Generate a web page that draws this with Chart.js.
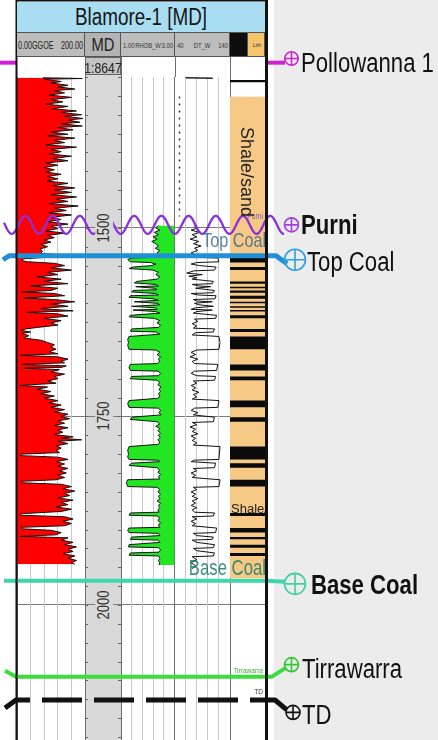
<!DOCTYPE html>
<html>
<head>
<meta charset="utf-8">
<script src="https://cdn.jsdelivr.net/npm/chart.js@4.4.1/dist/chart.umd.min.js"></script>
<style>
  html, body { margin: 0; padding: 0; background: #fff; }
  #wrap { position: relative; width: 438px; height: 740px; overflow: hidden; }
  #c { position: absolute; left: 0; top: 0; }
  .lbl { position: absolute; white-space: nowrap; line-height: 1; transform-origin: 0 0; z-index: 3; }
  .box { position: absolute; box-sizing: border-box; z-index: 2; }
</style>
</head>
<body>
<div id="wrap"><canvas id="c" width="438" height="740"></canvas></div>
<script>
// ---------------- well / depth ----------------
const wellName = 'Blamore-1 [MD]';
const depthScaleText = '1:8647';
const depthTop = 1300;
const depthBase = 2179;
const depthLabels = [1500, 1750, 2000];
const depthMinorStep = 25;

// ---------------- formation tops ----------------
const topNames  = ['Pollowanna 1', 'Purni', 'Top Coal', 'Base Coal', 'Tirrawarra', 'TD'];
const topDepths = [1281, 1496, 1537, 1968, 2095, 2126];

// ---------------- track 1: gamma ray (GAPI) ----------------
const grRange = [0, 200];
const grLog = [
  [1301,76],[1302,192],[1303,80],[1306,130],[1308,100],[1311,150],[1313,120],[1316,170],[1318,110],[1321,140],
  [1324,95],[1327,160],[1330,100],[1333,135],[1336,85],[1339,150],[1342,105],[1345,175],[1347,130],[1350,190],
  [1352,140],[1355,194],[1357,150],[1360,185],[1362,130],[1365,192],[1367,120],[1370,165],[1373,100],[1376,150],
  [1378,90],[1381,170],[1384,110],[1387,140],[1390,85],[1393,175],[1396,100],[1399,130],[1402,95],[1405,160],
  [1408,105],[1411,150],[1414,85],[1417,120],[1420,80],[1423,110],[1426,85],[1429,130],[1432,90],[1435,120],
  [1438,88],[1441,150],[1444,105],[1447,170],[1450,110],[1453,160],[1456,100],[1459,175],[1462,115],[1465,150],
  [1468,95],[1471,180],[1474,110],[1477,145],[1480,95],[1483,160],[1486,100],[1489,130],[1492,90],[1495,150],
  [1498,100],[1501,120],[1504,85],[1507,140],[1510,90],[1513,110],[1516,80],[1519,100],[1522,70],[1525,90],
  [1528,68],[1531,75],[1534,70],[1537,178],[1539,90],[1541,20],[1543,12],[1545,30],[1547,110],[1550,140],
  [1553,100],[1556,160],[1559,90],[1562,120],[1565,60],[1568,130],[1571,80],[1574,150],[1577,40],[1580,120],
  [1583,100],[1585,15],[1587,110],[1590,140],[1593,20],[1595,110],[1598,170],[1601,100],[1604,150],[1607,70],
  [1610,165],[1612,30],[1614,120],[1617,150],[1620,80],[1623,130],[1626,100],[1629,120],[1632,60],[1634,25],
  [1636,12],[1638,40],[1640,15],[1643,35],[1646,20],[1649,70],[1652,90],[1655,110],[1658,100],[1661,115],
  [1664,95],[1667,120],[1669,10],[1671,120],[1674,150],[1677,130],[1679,140],[1681,15],[1683,145],[1685,130],
  [1686,20],[1688,125],[1691,100],[1694,140],[1697,110],[1700,120],[1703,90],[1706,115],[1709,8],[1711,90],
  [1714,60],[1717,100],[1720,70],[1723,110],[1726,80],[1729,120],[1732,95],[1735,130],[1738,100],[1741,140],
  [1744,110],[1747,150],[1750,130],[1753,155],[1756,120],[1759,140],[1762,110],[1765,150],[1768,120],[1771,135],
  [1774,110],[1777,165],[1779,130],[1781,190],[1783,120],[1786,150],[1789,115],[1792,130],[1795,115],[1798,125],
  [1800,12],[1802,10],[1804,120],[1807,150],[1810,115],[1813,140],[1816,120],[1819,150],[1822,125],[1825,145],
  [1828,120],[1831,140],[1834,115],[1836,12],[1838,15],[1840,130],[1843,160],[1846,135],[1849,170],[1852,140],
  [1855,155],[1858,120],[1861,165],[1864,130],[1867,150],[1870,115],[1873,160],[1876,130],[1879,12],[1881,10],
  [1883,140],[1886,165],[1889,135],[1892,160],[1895,140],[1897,12],[1899,15],[1901,100],[1904,130],[1907,115],
  [1909,10],[1911,150],[1914,130],[1917,165],[1920,140],[1923,175],[1926,150],[1929,165],[1932,135],[1935,170],
  [1938,150],[1941,175],[1944,160],[1946,170]
];

// ---------------- track 3: bulk density (g/cc) ----------------
const rhobRange = [1.0, 3.0];
const rhobLog = [
  [1497,2.40],[1500,2.30],[1503,2.45],[1506,2.25],[1509,2.40],[1512,2.20],[1515,2.35],[1518,2.15],[1521,2.30],[1524,2.40],
  [1527,2.28],[1530,2.45],[1533,2.35],[1536,2.40],[1539,2.30],[1540,1.40],[1542,1.25],[1545,1.35],[1546,2.10],[1548,2.30],
  [1550,2.15],[1552,1.45],[1554,1.30],[1556,2.20],[1559,2.40],[1562,2.30],[1565,2.45],[1568,2.35],[1571,1.60],[1573,1.50],
  [1575,2.30],[1577,2.40],[1578,1.55],[1580,2.25],[1582,2.35],[1583,1.45],[1585,1.40],[1587,2.30],[1589,2.40],[1590,1.35],
  [1592,1.30],[1594,2.20],[1596,2.40],[1598,1.50],[1600,2.35],[1602,2.45],[1604,1.40],[1606,2.30],[1608,2.35],[1609,1.45],
  [1611,2.30],[1613,2.45],[1616,1.35],[1618,1.30],[1620,2.25],[1623,2.45],[1626,2.35],[1629,2.48],[1632,2.40],[1634,1.40],
  [1637,1.35],[1638,2.30],[1641,2.45],[1644,1.30],[1648,1.25],[1652,1.28],[1656,1.25],[1661,1.30],[1662,2.30],[1665,2.45],
  [1668,2.35],[1671,2.48],[1674,2.40],[1677,2.45],[1680,2.35],[1681,1.35],[1685,1.30],[1689,1.35],[1690,2.40],[1693,2.48],
  [1696,2.40],[1697,1.40],[1700,1.35],[1702,2.35],[1705,2.45],[1708,2.38],[1711,2.50],[1714,2.42],[1717,2.48],[1720,2.40],
  [1723,2.46],[1726,2.38],[1729,1.30],[1733,1.25],[1738,1.30],[1739,2.40],[1742,2.48],[1745,2.42],[1748,2.50],[1751,1.40],
  [1754,1.35],[1757,2.35],[1760,2.45],[1763,2.30],[1766,2.45],[1769,2.38],[1772,2.48],[1775,2.40],[1778,2.46],[1781,2.38],
  [1784,2.45],[1787,2.40],[1790,1.30],[1795,1.25],[1800,1.28],[1804,1.25],[1807,1.30],[1808,2.40],[1810,2.45],[1812,1.40],
  [1815,1.30],[1818,2.35],[1821,2.45],[1824,2.38],[1827,2.48],[1830,2.40],[1833,2.45],[1834,1.25],[1838,1.20],[1843,1.25],
  [1844,2.35],[1847,2.45],[1850,2.38],[1853,2.48],[1856,2.40],[1859,2.46],[1862,2.35],[1865,2.48],[1868,2.40],[1871,2.45],
  [1874,2.38],[1877,2.42],[1878,1.35],[1881,1.30],[1882,2.35],[1885,2.45],[1888,2.38],[1891,2.48],[1894,2.40],[1897,2.45],
  [1898,1.30],[1901,1.25],[1904,1.30],[1905,2.40],[1908,2.45],[1910,1.40],[1913,1.35],[1914,2.38],[1917,2.46],[1920,1.30],
  [1923,1.28],[1924,2.40],[1927,2.48],[1930,2.42],[1931,1.35],[1934,1.30],[1935,2.40],[1938,2.46],[1941,2.40],[1944,2.45],
  [1947,2.42]
];

// ---------------- track 4: sonic (us/ft) ----------------
const dtRange = [40, 140];
const dtLog = [
  [1497,75],[1500,82],[1503,70],[1506,85],[1509,72],[1512,80],[1515,68],[1518,84],[1521,74],[1524,88],
  [1527,76],[1530,82],[1533,70],[1536,78],[1539,72],[1540,118],[1545,120],[1546,80],[1548,70],[1550,85],
  [1552,115],[1556,112],[1557,75],[1560,62],[1562,90],[1564,66],[1566,80],[1568,72],[1571,110],[1574,108],
  [1575,72],[1577,84],[1578,105],[1580,78],[1583,112],[1586,110],[1587,70],[1589,82],[1590,115],[1594,113],
  [1595,74],[1597,80],[1598,108],[1600,76],[1602,84],[1604,110],[1606,78],[1608,70],[1609,108],[1611,80],
  [1613,74],[1616,116],[1620,114],[1621,76],[1624,82],[1627,72],[1630,80],[1633,74],[1634,112],[1638,110],
  [1639,78],[1642,72],[1644,120],[1652,122],[1661,120],[1662,80],[1665,70],[1668,78],[1671,68],[1674,82],
  [1677,72],[1680,76],[1681,118],[1689,116],[1690,76],[1693,70],[1696,80],[1697,114],[1702,112],[1703,74],
  [1706,80],[1709,70],[1712,78],[1715,72],[1718,84],[1721,74],[1724,80],[1727,72],[1729,120],[1738,118],
  [1739,76],[1742,70],[1745,82],[1748,74],[1751,112],[1757,110],[1758,72],[1761,80],[1764,68],[1767,78],
  [1770,72],[1773,82],[1776,70],[1779,78],[1782,72],[1785,80],[1788,74],[1790,122],[1807,120],[1808,76],
  [1810,70],[1812,114],[1818,112],[1819,74],[1822,80],[1825,70],[1828,78],[1831,72],[1834,122],[1843,120],
  [1844,74],[1847,80],[1850,70],[1853,78],[1856,72],[1859,82],[1862,72],[1865,78],[1868,70],[1871,80],
  [1874,72],[1877,76],[1878,112],[1882,110],[1883,72],[1886,80],[1889,70],[1892,78],[1895,72],[1898,116],
  [1904,114],[1905,74],[1908,80],[1910,110],[1913,108],[1914,72],[1917,80],[1920,112],[1924,110],[1925,74],
  [1928,80],[1931,112],[1935,110],[1936,72],[1940,80],[1944,70],[1948,78],[1952,72]
];
const dtCapLog  = [[1301,60],[1301.3,85],[1301.6,109]];
const dtUpperLog = [[1326,49],[1485,49]];

// ---------------- track 5: lithology ----------------
const shaleSandInterval = [1326, 1965];
const coalBands = [
  [1304,1307],[1540,1546],[1552,1556],[1571,1574],[1578,1580],[1583,1586],[1590,1594],[1598,1600],[1604,1606],
  [1609,1611],[1616,1620],[1634,1638],[1644,1661],[1681,1689],[1697,1702],[1729,1738],[1751,1757],[1790,1807],
  [1812,1818],[1834,1843],[1878,1882],[1898,1904],[1910,1913],[1920,1924],[1931,1935]
];

// ---------------- drawing styles ----------------
const NARROW = 0.82;
const topStyles = [
  { color: '#d21fd2', ring: '#d21fd2', width: 4, inner: false, left: [[0,0],[16,0]], right: [[266,0],[285,0]], circle: [291.5,-4.2,6.7], label: [301,0.3], bold: false },
  { color: '#8d2fd9', ring: '#a040e0', width: 2.3, wave: true, circle: [291.5,0,7], label: [301,0], bold: true },
  { color: '#1f8fd6', ring: '#2fa0e0', width: 5, inner: true, left: [[3,4],[9,0],[17,0]], right: [[266,0],[276,0],[287,8]], circle: [295,4,10.5], label: [307,6.7], bold: false },
  { color: '#3dd6a6', ring: '#40d0a0', width: 4, inner: true, left: [[4,0],[17,0]], right: [[266,0],[285,1]], circle: [295,3,10.5], label: [311,4], bold: true },
  { color: '#3ddc3d', ring: '#30c830', width: 4, inner: true, left: [[5,-6],[16,0]], right: [[266,0],[272,0],[286,-9]], circle: [291.5,-12,7], label: [302,-7.7], bold: false },
  { color: '#111111', ring: '#111111', width: 5, dash: [40,12], inner: true, left: [[5,8],[16,0]], right: [[266,0],[275,0],[287,10]], circle: [293,12.4,7], label: [302,15], bold: false }
];

const toPts = arr => arr.map(([d, v]) => ({ x: v, y: d }));
const bandPts = bands => {
  const pts = [];
  bands.forEach(([t, b]) => { pts.push({x:0,y:t},{x:1,y:t},{x:1,y:b},{x:0,y:b}); });
  return pts;
};

function trackAxis(weight, range, gridTicks) {
  return {
    type: 'linear', axis: 'x', position: 'bottom', stack: 'tracks', stackWeight: weight,
    min: range[0], max: range[1],
    ticks: { display: false },
    border: { display: false },
    grid: {
      drawTicks: false, lineWidth: 1,
      color: c => (c.tick && (c.tick.value === range[0] || c.tick.value === range[1])) ? '#6e6e6e' : '#c8c8c8'
    },
    afterBuildTicks: s => { s.ticks = gridTicks.map(v => ({ value: v })); }
  };
}

const panelPlugin = {
  id: 'panel',
  beforeDraw(chart) {
    const { ctx, chartArea: a, scales } = chart;
    ctx.save();
    ctx.fillStyle = '#ececec';
    ctx.fillRect(a.right + 8, 0, chart.width - a.right - 8, chart.height);
    const md = scales.xMD;
    ctx.fillStyle = '#d9d9d9';
    ctx.fillRect(md.left, 75, md.right - md.left, chart.height - 75);
    ctx.strokeStyle = '#6e6e6e';
    ctx.lineWidth = 1;
    [scales.xGR.right, md.right, scales.xRHOB.right, scales.xDT.right].forEach(x => {
      const px = Math.round(x) + 0.5;
      ctx.beginPath(); ctx.moveTo(px, 57); ctx.lineTo(px, a.top); ctx.stroke();
    });
    ctx.restore();
  },
  afterDatasetsDraw(chart) {
    const { ctx, scales } = chart;
    const y = scales.y, md = scales.xMD;
    ctx.save();
    // depth ticks on both edges of the depth track
    ctx.strokeStyle = '#666'; ctx.lineWidth = 1;
    for (let d = Math.ceil(depthTop / depthMinorStep) * depthMinorStep; d <= depthBase; d += depthMinorStep) {
      const py = Math.round(y.getPixelForValue(d)) + 0.5;
      ctx.beginPath();
      ctx.moveTo(md.left, py); ctx.lineTo(md.left + 3, py);
      ctx.moveTo(md.right - 3, py); ctx.lineTo(md.right, py);
      ctx.stroke();
    }
    // formation tops
    topDepths.forEach((dep, i) => {
      const st = topStyles[i];
      const py = y.getPixelForValue(dep);
      ctx.strokeStyle = st.color;
      ctx.lineWidth = st.width;
      ctx.lineJoin = 'round';
      ctx.setLineDash(st.dash || []);
      ctx.lineDashOffset = st.dash ? 12.4 : 0;
      if (st.wave) {
        ctx.beginPath();
        for (let x = 4; x <= 284; x += 0.5) {
          const wy = py - 9 * Math.cos(2 * Math.PI * (x - 107) / 27.2);
          if (x === 4) ctx.moveTo(x, wy); else ctx.lineTo(x, wy);
        }
        ctx.stroke();
        return;
      }
      const drawPath = pts => {
        ctx.beginPath();
        pts.forEach(([x, dy], k) => { if (k === 0) ctx.moveTo(x, py + dy); else ctx.lineTo(x, py + dy); });
        ctx.stroke();
      };
      if (st.inner) drawPath(st.left.concat(st.right));
      else { drawPath(st.left); drawPath(st.right); }
    });
    ctx.restore();
  },
  afterDraw(chart) {
    const { ctx, scales } = chart;
    const y = scales.y;
    ctx.save();
    // outer frame of the log panel
    ctx.fillStyle = '#111';
    ctx.fillRect(15.5, 0, 2, chart.height);
    ctx.fillRect(265, 0, 3, chart.height);
    ctx.fillRect(16, 0, 251, 1.5);
    // top markers
    topDepths.forEach((dep, i) => {
      const st = topStyles[i];
      const [cx, dy, r] = st.circle;
      const cy = y.getPixelForValue(dep) + dy;
      ctx.strokeStyle = st.ring; ctx.lineWidth = 1.6; ctx.setLineDash([]);
      ctx.beginPath(); ctx.arc(cx, cy, r, 0, Math.PI * 2); ctx.stroke();
      ctx.beginPath();
      ctx.moveTo(cx - r, cy); ctx.lineTo(cx + r, cy);
      ctx.moveTo(cx, cy - r); ctx.lineTo(cx, cy + r);
      ctx.stroke();
    });
    ctx.restore();
  }
};

const chart = new Chart(document.getElementById('c'), {
  type: 'line',
  data: {
    datasets: [
      { label: 'Coal', data: bandPts(coalBands), xAxisID: 'xLith', yAxisID: 'y',
        borderWidth: 0, backgroundColor: '#0a0a0a', fill: { value: 0 }, order: 0 },
      { label: 'Shale/sand', data: toPts([[shaleSandInterval[0], 1], [shaleSandInterval[1], 1]]), xAxisID: 'xLith', yAxisID: 'y',
        borderWidth: 0, backgroundColor: '#f6c986', fill: { value: 0 }, order: 1 },
      { label: 'GR', data: toPts(grLog), xAxisID: 'xGR', yAxisID: 'y',
        borderColor: '#111', borderWidth: 1, backgroundColor: '#ff0000', fill: { value: grRange[0] }, order: 2 },
      { label: 'RHOB', data: toPts(rhobLog), xAxisID: 'xRHOB', yAxisID: 'y',
        borderColor: '#111', borderWidth: 1, backgroundColor: '#22e622', fill: { value: rhobRange[1] }, order: 3 },
      { label: 'DT', data: toPts(dtLog), xAxisID: 'xDT', yAxisID: 'y',
        borderColor: '#111', borderWidth: 1, fill: false, order: 4 },
      { label: 'DT cap', data: toPts(dtCapLog), xAxisID: 'xDT', yAxisID: 'y',
        borderColor: '#222', borderWidth: 1.5, fill: false, order: 5 },
      { label: 'DT upper', data: toPts(dtUpperLog), xAxisID: 'xDT', yAxisID: 'y',
        borderColor: '#333', borderWidth: 1.5, borderDash: [2, 5], fill: false, order: 6 }
    ]
  },
  options: {
    responsive: false,
    animation: false,
    indexAxis: 'y',
    events: [],
    layout: { padding: { top: 77, left: 17, right: 172, bottom: 0 } },
    elements: { point: { radius: 0 }, line: { tension: 0 } },
    plugins: { legend: { display: false }, tooltip: { enabled: false }, title: { display: false } },
    scales: {
      y: {
        type: 'linear', position: 'left', reverse: true, min: depthTop, max: depthBase,
        ticks: { display: false }, border: { display: false },
        grid: { drawTicks: false, color: '#7a7a7a', lineWidth: 1 },
        afterBuildTicks: s => { s.ticks = depthLabels.map(v => ({ value: v })); }
      },
      xGR:   trackAxis(68,   grRange,   [0, 40, 80, 120, 160, 200]),
      xMD:   trackAxis(36,   [0, 1],    [0, 1]),
      xRHOB: trackAxis(53.5, rhobRange, [1.0, 1.4, 1.8, 2.2, 2.6, 3.0]),
      xDT:   trackAxis(55.5, dtRange,   [40, 60, 80, 100, 120, 140]),
      xLith: trackAxis(36,   [0, 1],    [0, 1])
    }
  },
  plugins: [panelPlugin]
});

// ---------------- text ----------------
const wrap = document.getElementById('wrap');
function label(text, x, y, o, parent) {
  const d = document.createElement('div');
  d.className = 'lbl';
  d.textContent = text;
  const a = o.align === 'center' ? 50 : o.align === 'right' ? 100 : 0;
  d.style.left = x + 'px';
  d.style.top = y + 'px';
  d.style.font = (o.bold ? 'bold ' : '') + o.size + 'px "Liberation Sans", Arial, sans-serif';
  d.style.color = o.color || '#111';
  d.style.transform = `rotate(${o.rot || 0}deg) scaleX(${o.sx || NARROW}) translate(-${a}%, -49%)`;
  if (o.bg) { d.style.background = o.bg; d.style.padding = '0 2px'; }
  (parent || wrap).appendChild(d);
  return d;
}
function box(x, y, w, h, css) {
  const d = document.createElement('div');
  d.className = 'box';
  d.style.left = x + 'px'; d.style.top = y + 'px';
  d.style.width = w + 'px'; d.style.height = h + 'px';
  Object.assign(d.style, css);
  wrap.appendChild(d);
  return d;
}

const S = chart.scales;
const xL = [S.xGR.left, S.xGR.right, S.xMD.right, S.xRHOB.right, S.xDT.right, S.xLith.right];

// title bar and curve headers
box(17, 1.5, 248, 31, { background: '#a9ddf2', borderBottom: '1px solid #555' });
label(wellName, 141, 17, { size: 23, align: 'center', color: '#151515' });
const headCells = [
  [xL[0], xL[1], '#bdbdbd'], [xL[1], xL[2], '#b3b3b3'], [xL[2], xL[3], '#bdbdbd'],
  [xL[3], xL[4], '#bdbdbd'], [xL[4], xL[4] + 18, '#0d0d0d'], [xL[4] + 18, xL[5] - 1, '#f5c56c']
];
headCells.forEach(([l, r, c]) => box(l, 33, r - l, 24, { background: c, borderRight: '1px solid #555', borderBottom: '1px solid #555' }));
label('0.00GGOE', xL[0] + 1, 45, { size: 10, sx: 0.72, color: '#222' });
label('200.00', xL[1] - 2, 45, { size: 10, sx: 0.72, color: '#222', align: 'right' });
label('MD', (xL[1] + xL[2]) / 2, 45, { size: 18, align: 'center', color: '#222' });
label('1.00', xL[2] + 2, 45, { size: 6.5, sx: 0.9, color: '#333' });
label('RHOB_W', (xL[2] + xL[3]) / 2, 45, { size: 6.5, sx: 0.9, color: '#333', align: 'center' });
label('3.00', xL[3] - 2, 45, { size: 6.5, sx: 0.9, color: '#333', align: 'right' });
label('40', xL[3] + 2, 45, { size: 6.5, sx: 0.9, color: '#333' });
label('DT_W', (xL[3] + xL[4]) / 2, 45, { size: 6.5, sx: 0.9, color: '#333', align: 'center' });
label('140', xL[4] - 2, 45, { size: 6.5, sx: 0.9, color: '#333', align: 'right' });
label('Lith', xL[4] + 27, 45, { size: 6, sx: 0.9, color: '#333', align: 'center' });
box(xL[1], 57, xL[2] - xL[1], 18, { background: '#c3c3c3', border: '1px solid #666' });
label(depthScaleText, (xL[1] + xL[2]) / 2, 66.5, { size: 15, align: 'center', color: '#222' });

// depth labels
depthLabels.forEach(v => {
  label(String(v), (xL[1] + xL[2]) / 2 + 1, S.y.getPixelForValue(v), { size: 16, rot: -90, align: 'center', color: '#333', bg: '#d9d9d9' });
});

// formation top names
topNames.forEach((n, i) => {
  const st = topStyles[i];
  label(n, st.label[0], S.y.getPixelForValue(topDepths[i]) + st.label[1], { size: 27, bold: st.bold, color: '#111' });
});

// tops annotated inside the tracks
const py = i => S.y.getPixelForValue(topDepths[i]);
label('Purni', 263, py(1) - 8.4, { size: 9, sx: 0.75, align: 'right', color: '#8a5aa8' });
label('Top Coal', 266, py(2) - 15.3, { size: 21, sx: 0.77, align: 'right', color: 'rgba(50,95,145,0.8)' });
label('Base Coal', 266, py(3) - 12.5, { size: 22, sx: 0.76, align: 'right', color: 'rgba(25,125,105,0.85)' });
label('Tirrawarra', 263, py(4) - 6.2, { size: 8, align: 'right', color: '#3faa3f' });
label('TD', 263, py(5) - 9, { size: 8, align: 'right', color: '#333' });

// lithology names, clipped to the lithology track
const lith = document.createElement('div');
lith.style.cssText = `position:absolute;left:${xL[4]}px;top:${chart.chartArea.top}px;width:${xL[5] - xL[4] - 1}px;height:${chart.chartArea.bottom - chart.chartArea.top}px;overflow:hidden;z-index:3;`;
wrap.appendChild(lith);
const lithTop = chart.chartArea.top;
label('Shale/sand', 247 - xL[4], S.y.getPixelForValue(1426) - lithTop, { size: 18, sx: 1, rot: 90, align: 'center', color: '#222' }, lith);
label('Shale/s', 1, S.y.getPixelForValue(1871) - lithTop, { size: 13, sx: 1, color: '#222' }, lith);
</script>
</body>
</html>
